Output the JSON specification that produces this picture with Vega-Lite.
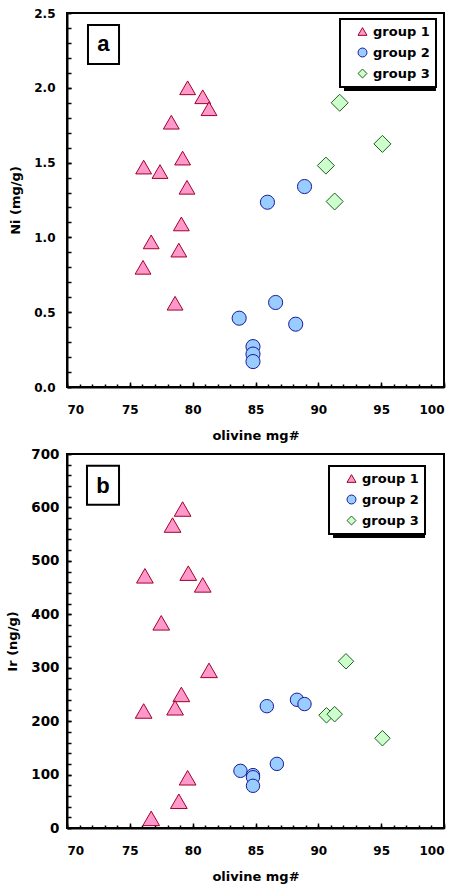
{
  "$schema": "https://vega.github.io/schema/vega-lite/v6.json",
  "padding": {"left": 5, "top": 6, "right": 5, "bottom": 5},
  "spacing": 3,
  "columns": 1,
  "align": "none",
  "bounds": "full",
  "datasets": {
    "ptsA": [
      {"group": "group 1", "mg": 79.6, "value": 2.0},
      {"group": "group 1", "mg": 80.8, "value": 1.94},
      {"group": "group 1", "mg": 81.3, "value": 1.86},
      {"group": "group 1", "mg": 78.3, "value": 1.77},
      {"group": "group 1", "mg": 76.1, "value": 1.47},
      {"group": "group 1", "mg": 77.4, "value": 1.44},
      {"group": "group 1", "mg": 79.2, "value": 1.53},
      {"group": "group 1", "mg": 79.55, "value": 1.335},
      {"group": "group 1", "mg": 79.1, "value": 1.09},
      {"group": "group 1", "mg": 76.7, "value": 0.97},
      {"group": "group 1", "mg": 78.9, "value": 0.915},
      {"group": "group 1", "mg": 76.05, "value": 0.8},
      {"group": "group 1", "mg": 78.6, "value": 0.56},
      {"group": "group 2", "mg": 85.95, "value": 1.235},
      {"group": "group 2", "mg": 88.9, "value": 1.34},
      {"group": "group 2", "mg": 83.7, "value": 0.46},
      {"group": "group 2", "mg": 86.6, "value": 0.565},
      {"group": "group 2", "mg": 88.2, "value": 0.42},
      {"group": "group 2", "mg": 84.8, "value": 0.27},
      {"group": "group 2", "mg": 84.8, "value": 0.22},
      {"group": "group 2", "mg": 84.8, "value": 0.17},
      {"group": "group 3", "mg": 91.7, "value": 1.9},
      {"group": "group 3", "mg": 95.1, "value": 1.625},
      {"group": "group 3", "mg": 90.6, "value": 1.48},
      {"group": "group 3", "mg": 91.3, "value": 1.24}
    ],
    "ptsB": [
      {"group": "group 1", "mg": 79.2, "value": 597},
      {"group": "group 1", "mg": 78.4, "value": 567},
      {"group": "group 1", "mg": 76.2, "value": 472},
      {"group": "group 1", "mg": 79.65, "value": 477},
      {"group": "group 1", "mg": 80.8, "value": 455},
      {"group": "group 1", "mg": 77.5, "value": 384},
      {"group": "group 1", "mg": 81.3, "value": 295},
      {"group": "group 1", "mg": 79.1, "value": 250},
      {"group": "group 1", "mg": 78.6, "value": 225},
      {"group": "group 1", "mg": 76.1, "value": 219},
      {"group": "group 1", "mg": 79.6, "value": 94},
      {"group": "group 1", "mg": 78.9, "value": 50},
      {"group": "group 1", "mg": 76.7, "value": 18},
      {"group": "group 2", "mg": 85.9, "value": 228},
      {"group": "group 2", "mg": 88.3, "value": 240},
      {"group": "group 2", "mg": 88.9, "value": 232},
      {"group": "group 2", "mg": 83.8, "value": 107},
      {"group": "group 2", "mg": 86.7, "value": 120},
      {"group": "group 2", "mg": 84.8, "value": 99},
      {"group": "group 2", "mg": 84.8, "value": 95},
      {"group": "group 2", "mg": 84.8, "value": 79},
      {"group": "group 3", "mg": 92.2, "value": 312},
      {"group": "group 3", "mg": 90.65, "value": 211},
      {"group": "group 3", "mg": 91.3, "value": 213},
      {"group": "group 3", "mg": 95.1, "value": 168}
    ],
    "labelA": [{"label": "a", "x1": 71.67, "x2": 74.14, "y1": 2.42, "y2": 2.159, "xc": 72.9, "yc": 2.29}],
    "labelB": [{"label": "b", "x1": 71.59, "x2": 74.14, "y1": 678, "y2": 605, "xc": 72.87, "yc": 641}],
    "shadowA": [{"x1": 92.04, "x2": 99.36, "y1": 2.433, "y2": 1.979}],
    "shadowB": [{"x1": 91.17, "x2": 98.49, "y1": 670, "y2": 543}]
  },
  "concat": [
    {
      "width": 377,
      "height": 374,
      "encoding": {
        "shape": {"field": "group", "type": "nominal", "scale": {"domain": ["group 1", "group 2", "group 3"], "range": ["triangle-up", "circle", "diamond"]},
          "legend": {"orient": "none", "legendX": 273, "legendY": 6, "zindex": 2, "labelFontSize": 13, "padding": 6, "rowPadding": 7, "symbolOffset": 10, "labelOffset": 4}},
        "fill": {"field": "group", "type": "nominal", "scale": {"domain": ["group 1", "group 2", "group 3"], "range": ["#FF99CC", "#99CCFF", "#CCFFCC"]},
          "legend": {"orient": "none", "legendX": 273, "legendY": 6, "zindex": 2, "labelFontSize": 13, "padding": 6, "rowPadding": 7, "symbolOffset": 10, "labelOffset": 4}},
        "stroke": {"field": "group", "type": "nominal", "scale": {"domain": ["group 1", "group 2", "group 3"], "range": ["#A0002A", "#1A1A99", "#245C24"]},
          "legend": {"orient": "none", "legendX": 273, "legendY": 6, "zindex": 2, "labelFontSize": 13, "padding": 6, "rowPadding": 7, "symbolOffset": 10, "labelOffset": 4}}
      },
      "layer": [
        {
          "data": {"name": "labelA"},
          "mark": {"type": "rect", "fill": "white", "stroke": "black", "strokeWidth": 2},
          "encoding": {
            "shape": null, "fill": null, "stroke": null,
            "x": {"field": "x1", "type": "quantitative", "scale": {"domain": [70, 100], "nice": false, "zero": false},
              "axis": {"orient": "bottom", "values": [70,71,72,73,74,75,76,77,78,79,80,81,82,83,84,85,86,87,88,89,90,91,92,93,94,95,96,97,98,99,100], "labels": false, "domain": false, "tickSize": -3, "title": null}},
            "x2": {"field": "x2"},
            "y": {"field": "y1", "type": "quantitative", "scale": {"domain": [0, 2.5], "nice": false, "zero": false},
              "axis": {"orient": "left", "values": [0,0.1,0.2,0.3,0.4,0.5,0.6,0.7,0.8,0.9,1,1.1,1.2,1.3,1.4,1.5,1.6,1.7,1.8,1.9,2,2.1,2.2,2.3,2.4,2.5], "labels": false, "domain": false, "tickSize": -4, "title": null}},
            "y2": {"field": "y2"}
          }
        },
        {
          "data": {"name": "labelA"},
          "mark": {"type": "text", "font": "Liberation Sans", "fontSize": 22, "fontWeight": "bold", "color": "black"},
          "encoding": {
            "shape": null, "fill": null, "stroke": null,
            "x": {"field": "xc", "type": "quantitative", "axis": null},
            "y": {"field": "yc", "type": "quantitative", "axis": null},
            "text": {"field": "label"}
          }
        },
        {
          "data": {"name": "shadowA"},
          "mark": {"type": "rect", "fill": "black"},
          "encoding": {
            "shape": null, "fill": null, "stroke": null,
            "x": {"field": "x1", "type": "quantitative", "axis": null},
            "x2": {"field": "x2"},
            "y": {"field": "y1", "type": "quantitative", "axis": null},
            "y2": {"field": "y2"}
          }
        },
        {
          "data": {"name": "ptsA"},
          "transform": [{"filter": "datum.group === 'group 1'"}],
          "mark": {"type": "point", "filled": true, "opacity": 1, "strokeWidth": 1, "size": 250},
          "encoding": {
            "x": {"field": "mg", "type": "quantitative", "title": "olivine mg#",
              "axis": {"orient": "bottom", "values": [70,75,80,85,90,95,100], "tickSize": -5, "labelPadding": 22, "titlePadding": 14}},
            "y": {"field": "value", "type": "quantitative", "title": "Ni (mg/g)",
              "axis": {"orient": "left", "values": [0,0.5,1,1.5,2,2.5], "format": ".1f", "tickSize": -4, "labelPadding": 16, "titlePadding": 11}}
          }
        },
        {
          "data": {"name": "ptsA"},
          "transform": [{"filter": "datum.group === 'group 2'"}],
          "mark": {"type": "point", "filled": true, "opacity": 1, "strokeWidth": 1, "size": 200},
          "encoding": {
            "x": {"field": "mg", "type": "quantitative", "axis": null},
            "y": {"field": "value", "type": "quantitative", "axis": null}
          }
        },
        {
          "data": {"name": "ptsA"},
          "transform": [{"filter": "datum.group === 'group 3'"}],
          "mark": {"type": "point", "filled": true, "opacity": 1, "strokeWidth": 1, "size": 290},
          "encoding": {
            "x": {"field": "mg", "type": "quantitative", "axis": null},
            "y": {"field": "value", "type": "quantitative", "axis": null}
          }
        }
      ],
      "resolve": {"axis": {"x": "independent", "y": "independent"}}
    },
    {
      "width": 377,
      "height": 374,
      "encoding": {
        "shape": {"field": "group", "type": "nominal", "scale": {"domain": ["group 1", "group 2", "group 3"], "range": ["triangle-up", "circle", "diamond"]},
          "legend": {"orient": "none", "legendX": 262, "legendY": 12, "zindex": 2, "labelFontSize": 13, "padding": 6, "rowPadding": 7, "symbolOffset": 10, "labelOffset": 4}},
        "fill": {"field": "group", "type": "nominal", "scale": {"domain": ["group 1", "group 2", "group 3"], "range": ["#FF99CC", "#99CCFF", "#CCFFCC"]},
          "legend": {"orient": "none", "legendX": 262, "legendY": 12, "zindex": 2, "labelFontSize": 13, "padding": 6, "rowPadding": 7, "symbolOffset": 10, "labelOffset": 4}},
        "stroke": {"field": "group", "type": "nominal", "scale": {"domain": ["group 1", "group 2", "group 3"], "range": ["#A0002A", "#1A1A99", "#245C24"]},
          "legend": {"orient": "none", "legendX": 262, "legendY": 12, "zindex": 2, "labelFontSize": 13, "padding": 6, "rowPadding": 7, "symbolOffset": 10, "labelOffset": 4}}
      },
      "layer": [
        {
          "data": {"name": "labelB"},
          "mark": {"type": "rect", "fill": "white", "stroke": "black", "strokeWidth": 2},
          "encoding": {
            "shape": null, "fill": null, "stroke": null,
            "x": {"field": "x1", "type": "quantitative", "scale": {"domain": [70, 100], "nice": false, "zero": false},
              "axis": {"orient": "bottom", "values": [70,71,72,73,74,75,76,77,78,79,80,81,82,83,84,85,86,87,88,89,90,91,92,93,94,95,96,97,98,99,100], "labels": false, "domain": false, "tickSize": -3, "title": null}},
            "x2": {"field": "x2"},
            "y": {"field": "y1", "type": "quantitative", "scale": {"domain": [0, 700], "nice": false, "zero": false},
              "axis": {"orient": "left", "values": [0,20,40,60,80,100,120,140,160,180,200,220,240,260,280,300,320,340,360,380,400,420,440,460,480,500,520,540,560,580,600,620,640,660,680,700], "labels": false, "domain": false, "tickSize": -4, "title": null}},
            "y2": {"field": "y2"}
          }
        },
        {
          "data": {"name": "labelB"},
          "mark": {"type": "text", "font": "Liberation Sans", "fontSize": 22, "fontWeight": "bold", "color": "black"},
          "encoding": {
            "shape": null, "fill": null, "stroke": null,
            "x": {"field": "xc", "type": "quantitative", "axis": null},
            "y": {"field": "yc", "type": "quantitative", "axis": null},
            "text": {"field": "label"}
          }
        },
        {
          "data": {"name": "shadowB"},
          "mark": {"type": "rect", "fill": "black"},
          "encoding": {
            "shape": null, "fill": null, "stroke": null,
            "x": {"field": "x1", "type": "quantitative", "axis": null},
            "x2": {"field": "x2"},
            "y": {"field": "y1", "type": "quantitative", "axis": null},
            "y2": {"field": "y2"}
          }
        },
        {
          "data": {"name": "ptsB"},
          "transform": [{"filter": "datum.group === 'group 1'"}],
          "mark": {"type": "point", "filled": true, "opacity": 1, "strokeWidth": 1, "size": 280},
          "encoding": {
            "x": {"field": "mg", "type": "quantitative", "title": "olivine mg#",
              "axis": {"orient": "bottom", "values": [70,75,80,85,90,95,100], "tickSize": -5, "labelPadding": 22, "titlePadding": 14}},
            "y": {"field": "value", "type": "quantitative", "title": "Ir (ng/g)",
              "axis": {"orient": "left", "values": [0,100,200,300,400,500,600,700], "tickSize": -4, "labelPadding": 12, "labelFontSize": 13.5, "titlePadding": 11}}
          }
        },
        {
          "data": {"name": "ptsB"},
          "transform": [{"filter": "datum.group === 'group 2'"}],
          "mark": {"type": "point", "filled": true, "opacity": 1, "strokeWidth": 1, "size": 180},
          "encoding": {
            "x": {"field": "mg", "type": "quantitative", "axis": null},
            "y": {"field": "value", "type": "quantitative", "axis": null}
          }
        },
        {
          "data": {"name": "ptsB"},
          "transform": [{"filter": "datum.group === 'group 3'"}],
          "mark": {"type": "point", "filled": true, "opacity": 1, "strokeWidth": 1, "size": 240},
          "encoding": {
            "x": {"field": "mg", "type": "quantitative", "axis": null},
            "y": {"field": "value", "type": "quantitative", "axis": null}
          }
        }
      ],
      "resolve": {"axis": {"x": "independent", "y": "independent"}}
    }
  ],
  "resolve": {
    "scale": {"x": "independent", "y": "independent", "shape": "independent", "fill": "independent", "stroke": "independent"},
    "legend": {"shape": "independent", "fill": "independent", "stroke": "independent"}
  },
  "config": {
    "font": "DejaVu Sans",
    "view": {"stroke": "black", "strokeWidth": 2},
    "axis": {
      "grid": false,
      "labelFont": "DejaVu Sans", "labelFontWeight": "bold", "labelFontSize": 12, "labelColor": "black",
      "titleFont": "DejaVu Sans", "titleFontWeight": "bold", "titleFontSize": 13, "titleColor": "black",
      "domainColor": "black", "domainWidth": 2, "tickColor": "black", "tickWidth": 1.5
    },
    "legend": {
      "title": null,
      "strokeColor": "black", "strokeWidth": 2, "fillColor": "white",
      "labelFont": "DejaVu Sans", "labelFontWeight": "bold", "labelFontSize": 13, "labelColor": "black",
      "symbolSize": 80, "symbolStrokeWidth": 1
    }
  }
}
